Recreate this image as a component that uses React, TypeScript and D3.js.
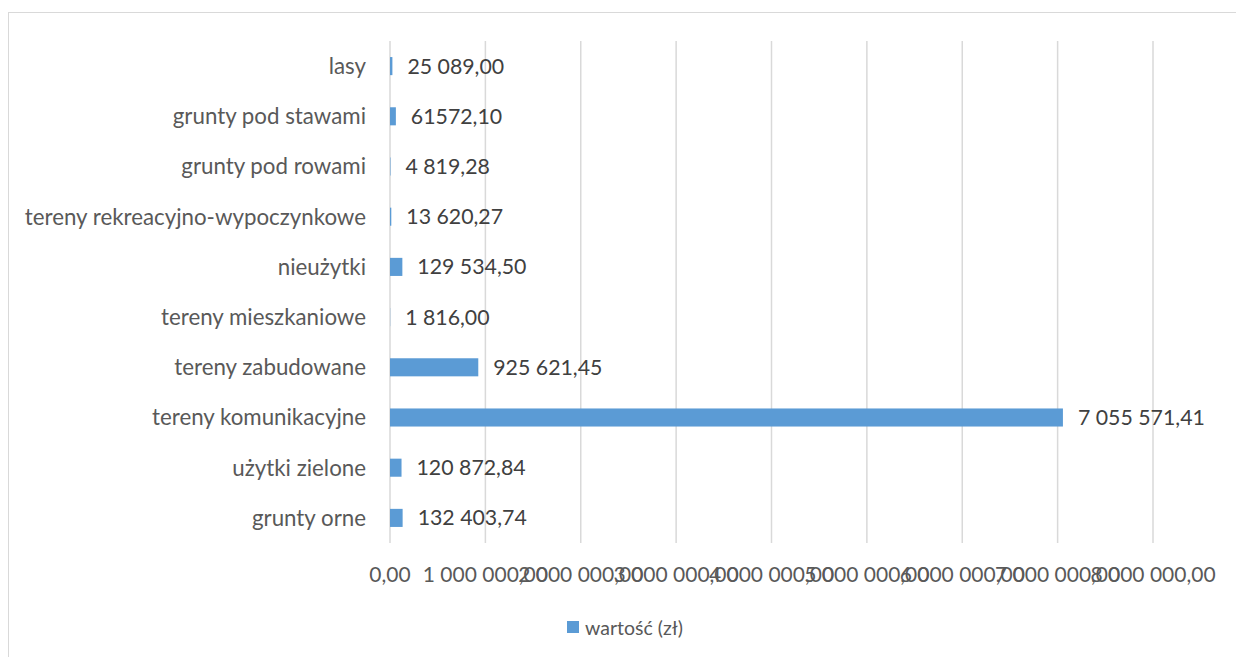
import React from "react";
import * as d3 from "d3";

const categories = [
  "lasy",
  "grunty pod stawami",
  "grunty pod rowami",
  "tereny rekreacyjno-wypoczynkowe",
  "nieużytki",
  "tereny mieszkaniowe",
  "tereny zabudowane",
  "tereny komunikacyjne",
  "użytki zielone",
  "grunty orne",
];
const values = [25089.0, 61572.1, 4819.28, 13620.27, 129534.5, 1816.0, 925621.45, 7055571.41, 120872.84, 132403.74];
const valueLabels = [
  "25 089,00",
  "61572,10",
  "4 819,28",
  "13 620,27",
  "129 534,50",
  "1 816,00",
  "925 621,45",
  "7 055 571,41",
  "120 872,84",
  "132 403,74",
];
const ticks = [0, 1000000, 2000000, 3000000, 4000000, 5000000, 6000000, 7000000, 8000000];
const seriesName = "wartość (zł)";

const W = 1236;
const H = 657;
const FONT = "Lato, 'Open Sans', sans-serif";

export default function App() {
  const x = d3.scaleLinear().domain([0, 8000000]).range([390, 1153]);
  const y = d3
    .scaleBand<string>()
    .domain(categories)
    .range([41, 543])
    .paddingInner(0.64)
    .paddingOuter(0.32);
  const locale = d3.formatLocale({ decimal: ",", thousands: "\u00a0", grouping: [3], currency: ["", " zł"] });
  const fmt = locale.format(",.2f");

  return (
    <svg
      width={W}
      height={H}
      style={{ position: "absolute", left: 0, top: 0, background: "#fff" }}
      fontFamily={FONT}
    >
      <rect x={8.5} y={12.5} width={W} height={H} fill="#fff" stroke="#D9D9D9" strokeWidth={1} />
      {ticks.map((t) => (
        <line key={"g" + t} x1={x(t)} x2={x(t)} y1={41} y2={543} stroke="#D9D9D9" strokeWidth={1.5} />
      ))}
      {categories.map((c, i) => (
        <g key={c}>
          <rect x={x(0)} y={y(c)!} width={x(values[i]) - x(0)} height={y.bandwidth()} fill="#5B9BD5" />
          <text
            x={366}
            y={y(c)! + y.bandwidth() / 2}
            dy="0.35em"
            textAnchor="end"
            fontSize={22.3}
            fill="#595959"
          >
            {c}
          </text>
          <text
            x={x(values[i]) + 15}
            y={y(c)! + y.bandwidth() / 2}
            dy="0.35em"
            textAnchor="start"
            fontSize={21.3}
            fill="#404040"
          >
            {valueLabels[i]}
          </text>
        </g>
      ))}
      {ticks.map((t) => (
        <text key={"t" + t} x={x(t)} y={575} dy="0.35em" textAnchor="middle" fontSize={21} fill="#595959">
          {fmt(t)}
        </text>
      ))}
      <rect x={567} y={621} width={12} height={12} fill="#5B9BD5" />
      <text x={585} y={628} dy="0.35em" fontSize={19.5} fill="#595959">
        {seriesName}
      </text>
    </svg>
  );
}
